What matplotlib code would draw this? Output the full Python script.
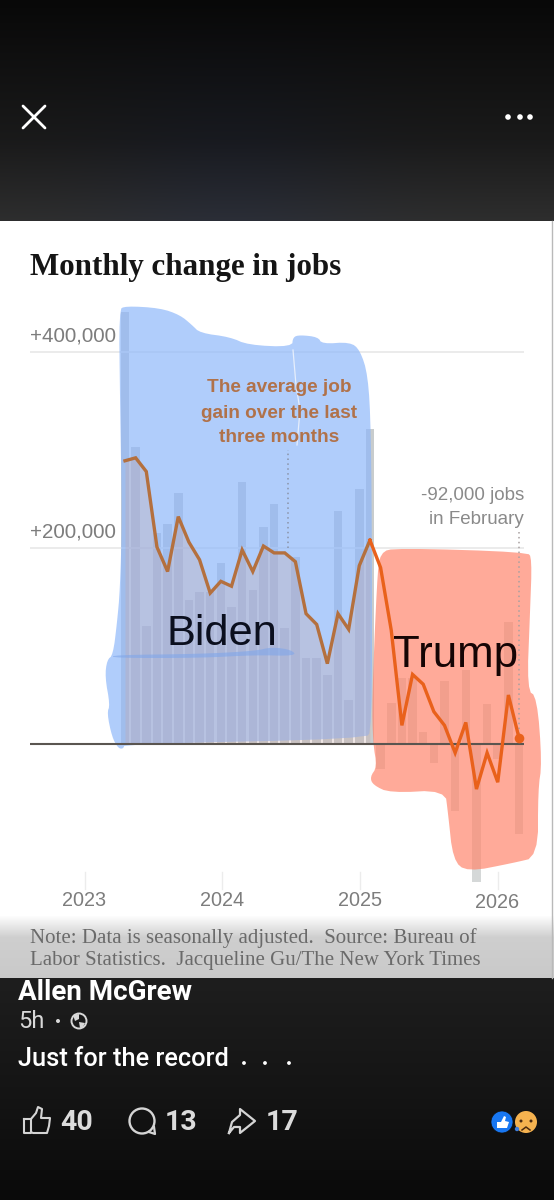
import numpy as np
import matplotlib
matplotlib.use("Agg")
import matplotlib.pyplot as plt
from matplotlib.patches import Polygon, Circle

W, H = 554, 1200

# Data, in thousands of jobs, one entry per month from January 2023
monthly_change = [441, 303, 120, 215, 225, 256, 147, 155, 155, 185, 140, 267, 157, 221, 245, 118, 191, 88, 88,
                  70, 238, 45, 260, 321, -26, 42, 67, 67, 12, -19, 64, -68, 76, -141, 41, -15, 124, -92]
three_month_avg = [289, 292, 278, 201, 176, 232, 206, 188, 154, 166, 161, 198, 176, 202, 195, 195, 186, 133, 122,
                   82, 133, 117, 182, 208, 180, 116, 19, 71, 61, 33, 19, -9, 22, -46, -9, -39, 50, 6]
year_ticks = [-3.8, 9.07, 22.05, 34.98]
year_labels = ["2023", "2024", "2025", "2026"]
y_grid = [200, 400]
y_labels = ["+200,000", "+400,000"]
biden_end = 23

# Marker-pen scribbles on the screenshot, in image pixels
blue_scribble = [(119, 310), (125, 306), (160, 308), (180, 315), (192, 325), (200, 333), (230, 337), (248, 345),
                 (292, 347), (293, 337), (300, 335), (318, 337), (322, 344), (350, 342), (360, 350), (368, 375),
                 (371, 430), (372, 560), (372, 730), (365, 739), (125, 744), (123, 749), (118, 748), (112, 737),
                 (107, 713), (110, 705), (105, 677), (107, 660), (113, 655), (117, 623), (120, 590), (122, 520),
                 (120, 400)]
blue_streak = [(113, 655), (200, 654), (255, 651), (272, 647), (292, 650), (296, 656), (255, 655), (200, 658),
               (113, 658)]
red_scribble = [(380, 552), (397, 548), (527, 552), (532, 558), (530, 613), (527, 690), (537, 697), (542, 763),
                (538, 790), (538, 857), (513, 863), (467, 872), (453, 860), (448, 813), (445, 790), (390, 793),
                (373, 785), (370, 777), (377, 767), (373, 743), (372, 700), (377, 580)]
crack = [(293, 350), (296, 385), (300, 410), (297, 445)]


def soften(points, rounds=2):
    # corner cutting so the pen strokes do not look like straight polygons
    pts = np.array(points, dtype=float)
    for _ in range(rounds):
        nxt = np.roll(pts, -1, axis=0)
        pts = np.column_stack([0.75 * pts + 0.25 * nxt, 0.25 * pts + 0.75 * nxt]).reshape(-1, 2)
    return pts


fig = plt.figure(figsize=(W / 100, H / 100), dpi=100)
plt.rcParams["font.family"] = ["Liberation Sans", "DejaVu Sans"]


def pixel_axes(z):
    a = fig.add_axes([0, 0, 1, 1], zorder=z)
    a.set_xlim(0, W)
    a.set_ylim(H, 0)
    a.axis("off")
    return a


bg = pixel_axes(0)
top = pixel_axes(2)

# Dark phone background and the white card
top_grad = np.interp(np.arange(221), [0, 60, 140, 221], [8, 16, 26, 46])
blue_tint = np.exp(-((np.arange(W) - 230) / 130.0) ** 2)
rgb = np.zeros((221, W, 3))
for c, gain in enumerate([-3, 0, 9]):
    rgb[:, :, c] = top_grad[:, None] + gain * blue_tint * (np.arange(221)[:, None] / 221.0)
bg.imshow(rgb / 255, extent=[0, W, 221, 0], aspect="auto", zorder=0, interpolation="bilinear")
bottom_grad = np.interp(np.arange(222), [0, 120, 222], [30, 20, 10])[:, None, None] * np.ones((222, W, 3))
bg.imshow(bottom_grad / 255, extent=[0, W, 1200, 978], aspect="auto", zorder=0)
bg.imshow(np.ones((757, W, 3)), extent=[0, W, 978, 221], aspect="auto", zorder=1)
fade = np.interp(np.arange(63), [0, 22, 63], [1, 0.81, 0.79])[:, None, None] * np.ones((63, W, 3))
bg.imshow(fade, extent=[0, W, 978, 915], aspect="auto", zorder=2)
bg.plot([552, 552], [221, 978], color="#b9b9b9", lw=1, zorder=3)
bg.set_xlim(0, W)
bg.set_ylim(H, 0)

# Chart axes, placed so the scales line up with the picture
x_left, x_right, y_top, y_bottom = 30, 524, 300, 890
ax = fig.add_axes([x_left / W, 1 - y_bottom / H, (x_right - x_left) / W, (y_bottom - y_top) / H], zorder=1)
ax.patch.set_alpha(0)
ax.set_xlim((x_left - 125) / 10.65, (x_right - 125) / 10.65)
ax.set_ylim((744 - y_bottom) / 0.98, (744 - y_top) / 0.98)
for s in ax.spines.values():
    s.set_visible(False)
ax.set_yticks([])
ax.set_xticks(year_ticks)
ax.set_xticklabels(year_labels)
ax.tick_params(axis="x", length=0, pad=0, labelbottom=False)

months = np.arange(len(monthly_change))
avg = np.array(three_month_avg)
bar_colors = ["#c8cccd" if m <= biden_end else "#d5d8d8" for m in months]

ax.bar(months, monthly_change, width=0.8, color=bar_colors, zorder=1)
for g in y_grid:
    ax.axhline(g, color="#e8e8e8", lw=1.2, zorder=2)
for t in year_ticks:
    ax.plot([t, t], [-148, -131], color="#ececec", lw=1, zorder=2, clip_on=False)

ax.add_patch(Polygon(soften(red_scribble), closed=True, transform=bg.transData, fc="#ff876e", ec="none", alpha=0.7,
                     zorder=3, clip_on=False))
ax.add_patch(Polygon(soften(blue_scribble), closed=True, transform=bg.transData, fc="#8fb8fa", ec="none", alpha=0.7,
                     zorder=3, clip_on=False))
ax.fill_between(months[:biden_end + 1], avg[:biden_end + 1], 0, color="#c9a9a8", alpha=0.3, lw=0, zorder=4)
ax.add_patch(Polygon(soften(blue_streak), closed=True, transform=bg.transData, fc="#7fa6ea", ec="none", alpha=0.6,
                     zorder=4, clip_on=False))
ax.plot(*zip(*crack), transform=bg.transData, color="#e6eefc", lw=0.9, zorder=4)

ax.axhline(0, color="#5a5550", lw=1.5, zorder=5)
ax.plot([15.3, 15.3], [200, 300], color="#8a93a8", lw=1.1, ls=(0, (1, 2.2)), zorder=5)
ax.plot([37, 37], [10, 216], color="#a8a0a0", lw=1.1, ls=(0, (1, 2.2)), zorder=5)
ax.plot(months[:biden_end + 1], avg[:biden_end + 1], color="#b4703e", lw=2.4, solid_joinstyle="miter", zorder=6)
ax.plot(months[biden_end:], avg[biden_end:], color="#e9611b", lw=2.4, solid_joinstyle="miter", zorder=6)
ax.scatter(months[-1], avg[-1], s=48, color="#e9611b", lw=0, zorder=7)

# Chart text
serif = ["Liberation Serif", "DejaVu Serif"]
top.text(30, 268, "Monthly change in jobs", family=serif, weight="bold", fontsize=22.3, color="#151515", va="center")
for lab, g in zip(y_labels, y_grid):
    top.text(30, 744 - g * 0.98 - 16, lab, fontsize=14.9, color="#7d7d7d", va="center")
for lab, t in zip(year_labels, year_ticks):
    px = 125 + 10.65 * t
    top.text(px, 901 if lab != "2026" else 903, lab, fontsize=14.3, color="#7d7d7d", ha="center", va="center")
for txt, y in zip(["The average job", "gain over the last", "three months"], [388, 414, 438]):
    top.text(279.5, y, txt, fontsize=13.7, weight="bold", color="#b0724a", ha="center", va="center")
for txt, y in zip(["-92,000 jobs", "in February"], [495, 519]):
    top.text(524, y, txt, fontsize=13.5, color="#8a8a8a", ha="right", va="center")
top.text(166, 634, "Biden", fontsize=31.2, color="#0b0f1e", va="center")
top.text(393, 655, "Trump", fontsize=31.6, color="#150505", va="center")
top.text(30, 938, "Note: Data is seasonally adjusted.  Source: Bureau of", family=serif, fontsize=15, color="#6a6a6a", va="center")
top.text(30, 960, "Labor Statistics.  Jacqueline Gu/The New York Times", family=serif, fontsize=15, color="#6a6a6a", va="center")

# Facebook post text
sans = ["Roboto", "DejaVu Sans"]
top.text(18, 992, "Allen McGrew", family=sans, weight="bold", fontsize=20, color="white", va="center")
top.text(18, 1021, "5h", family=sans, fontsize=17, color="#d8d8d8", va="center")
top.add_patch(Circle((58, 1021), 2, fc="#d8d8d8", ec="none"))
top.text(18, 1059, "Just for the record", family=sans, weight="medium", fontsize=18.3, color="white", va="center")
for x in [244, 265, 289]:
    top.add_patch(Circle((x, 1063), 1.9, fc="white", ec="none"))
for txt, x in zip(["40", "13", "17"], [60, 165, 266]):
    top.text(x, 1122, txt, family=sans, weight="bold", fontsize=20.5, color="#dcdcdc", va="center")

# Icons
white = "white"
top.plot([23, 45], [106, 128], color=white, lw=2, solid_capstyle="round")
top.plot([45, 23], [106, 128], color=white, lw=2, solid_capstyle="round")
for x in [508, 520, 530]:
    top.add_patch(Circle((x, 117), 2.8, fc=white, ec="none"))
top.add_patch(Circle((79, 1021), 7.5, fc="none", ec="#d8d8d8", lw=1.4))
top.add_patch(Polygon([(73, 1015), (79, 1014), (79, 1019), (75, 1021)], closed=True, fc="#d8d8d8", ec="none"))
top.add_patch(Polygon([(79, 1022), (85, 1023), (83, 1027), (80, 1028)], closed=True, fc="#d8d8d8", ec="none"))
icon = "#d4d4d4"
top.plot([24, 31, 31, 24, 24], [1119, 1119, 1133, 1133, 1119], color=icon, lw=1.5)
top.plot([31, 36, 38, 38, 42, 41, 50, 49, 47, 33, 31],
         [1119, 1113, 1107, 1107, 1109, 1118, 1118, 1126, 1133, 1133, 1132], color=icon, lw=1.5)
top.add_patch(Circle((142, 1121), 12.5, fc="none", ec=icon, lw=1.7))
top.plot([149, 155, 154], [1132, 1134, 1127], color=icon, lw=1.6)
top.plot([229, 232, 240, 240, 255, 240, 240, 234, 229], [1133, 1122, 1115, 1109, 1121, 1133, 1127, 1127, 1133],
         color=icon, lw=1.6)
top.add_patch(Circle((526, 1122), 11, fc="#f5b24f", ec="none", zorder=3))
top.add_patch(Circle((502, 1122), 11, fc="#1877f2", ec="#101010", lw=0.5, zorder=4))
top.add_patch(Polygon([(497, 1122), (501, 1122), (504, 1116), (506, 1117), (505, 1121), (509, 1122), (507, 1128),
                       (497, 1128)], closed=True, fc=white, ec="none", zorder=5))
top.add_patch(Circle((521, 1121), 1.5, fc="#4b2a10", ec="none", zorder=5))
top.add_patch(Circle((531, 1121), 1.5, fc="#4b2a10", ec="none", zorder=5))
top.plot([522, 526, 530], [1130, 1127, 1130], color="#4b2a10", lw=1.1, zorder=5)
top.add_patch(Circle((517, 1129), 2.2, fc="#3d7fe0", ec="none", zorder=6))
top.set_xlim(0, W)
top.set_ylim(H, 0)

fig.savefig("out.png", dpi=100)
